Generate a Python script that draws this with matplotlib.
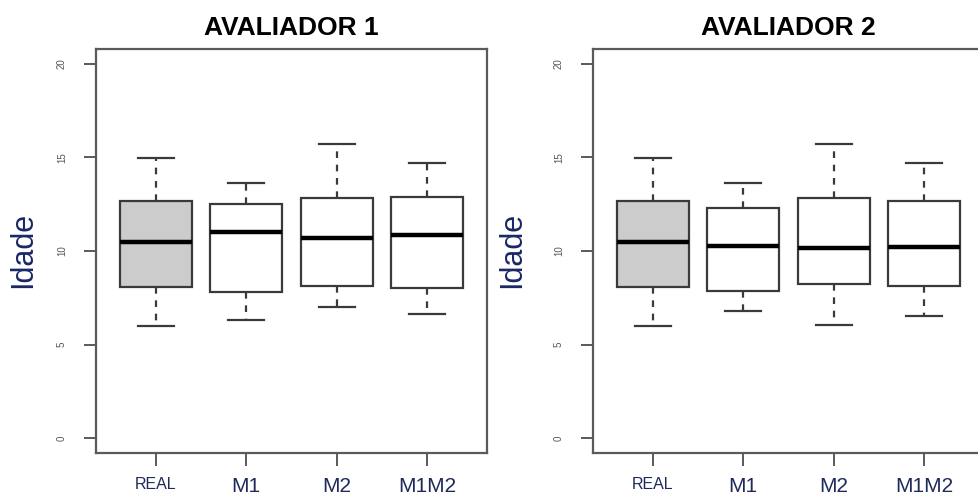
import matplotlib
matplotlib.use("Agg")
import matplotlib.pyplot as plt

plt.rcParams["font.family"] = ["Liberation Sans", "DejaVu Sans"]

groups = ["REAL", "M1", "M2", "M1M2"]
label_sizes = [11.5, 15, 15, 15]
box_colors = ["#cccccc", "white", "white", "white"]
yticks = [0, 5, 10, 15, 20]

# avaliador 1: whisker low, Q1, median, Q3, whisker high
av1_low = [6.0, 6.3, 7.0, 6.65]
av1_q1 = [8.1, 7.8, 8.15, 8.0]
av1_med = [10.5, 11.0, 10.7, 10.85]
av1_q3 = [12.65, 12.5, 12.85, 12.9]
av1_high = [14.95, 13.65, 15.7, 14.7]

# avaliador 2
av2_low = [6.0, 6.8, 6.05, 6.55]
av2_q1 = [8.1, 7.85, 8.25, 8.15]
av2_med = [10.5, 10.25, 10.15, 10.2]
av2_q3 = [12.65, 12.3, 12.85, 12.65]
av2_high = [14.95, 13.65, 15.7, 14.7]

panels = [
    ("AVALIADOR 1", av1_low, av1_q1, av1_med, av1_q3, av1_high),
    ("AVALIADOR 2", av2_low, av2_q1, av2_med, av2_q3, av2_high),
]

W, H = 979, 497
fig = plt.figure(figsize=(W / 100, H / 100), dpi=100)

frame_col = "#5a5a5a"
ax_w = 391 / W
ax_h = (453 - 49) / H
lefts = [96 / W, 593 / W]
label_x = [23 / W, 512 / W]

for i, (title, lo, q1, med, q3, hi) in enumerate(panels):
    ax = fig.add_axes([lefts[i], 1 - 453 / H, ax_w, ax_h])
    stats = [
        {"whislo": lo[k], "q1": q1[k], "med": med[k], "q3": q3[k], "whishi": hi[k]}
        for k in range(len(groups))
    ]
    bp = ax.bxp(
        stats,
        positions=range(1, len(groups) + 1),
        widths=0.8,
        showfliers=False,
        patch_artist=True,
        boxprops=dict(edgecolor="#3a3a3a", linewidth=1.6),
        medianprops=dict(color="black", linewidth=3.2),
        whiskerprops=dict(color="#3a3a3a", linewidth=1.6, linestyle=(0, (3, 3))),
        capprops=dict(color="#3a3a3a", linewidth=1.6),
        capwidths=0.4,
    )
    for patch, c in zip(bp["boxes"], box_colors):
        patch.set_facecolor(c)

    ax.set_xlim(0.34, 4.66)
    ax.set_ylim(-0.8, 20.8)
    for sp in ax.spines.values():
        sp.set_color(frame_col)
        sp.set_linewidth(1.6)

    ax.set_yticks(yticks)
    ax.set_yticklabels([str(v) for v in yticks], rotation=90, va="center",
                       fontsize=7, color="#555555")
    ax.tick_params(axis="y", length=9, width=1.4, color=frame_col, pad=12)
    ax.set_xticks(range(1, len(groups) + 1))
    ax.set_xticklabels(groups, color="#1e2a5a")
    for lab, fs in zip(ax.get_xticklabels(), label_sizes):
        lab.set_fontsize(fs)
    ax.tick_params(axis="x", length=9, width=1.4, color=frame_col, pad=8)

    ax.set_title(title, fontsize=19, fontweight="bold", pad=10)
    fig.text(label_x[i], 1 - 250 / H, "Idade", rotation=90, fontsize=22,
             color="#1a2766", ha="center", va="center")

fig.savefig("out.png", dpi=100)
